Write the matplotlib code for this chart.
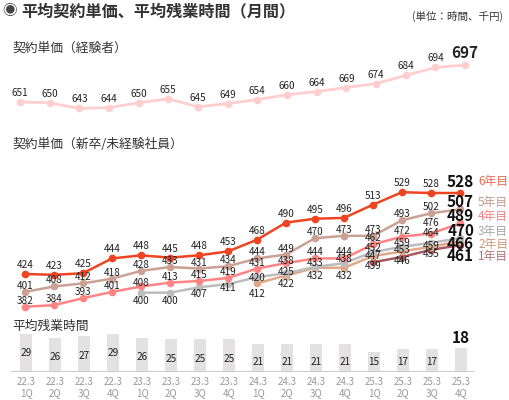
import numpy as np
import matplotlib
matplotlib.use("Agg")
import matplotlib.pyplot as plt

plt.rcParams['font.family'] = ['Noto Sans CJK JP', 'DejaVu Sans']

# ---------------- data ----------------
quarters = ["22.3\n1Q", "22.3\n2Q", "22.3\n3Q", "22.3\n4Q",
            "23.3\n1Q", "23.3\n2Q", "23.3\n3Q", "23.3\n4Q",
            "24.3\n1Q", "24.3\n2Q", "24.3\n3Q", "24.3\n4Q",
            "25.3\n1Q", "25.3\n2Q", "25.3\n3Q", "25.3\n4Q"]

experienced = [651, 650, 643, 644, 650, 655, 645, 649, 654, 660, 664, 669, 674, 684, 694, 697]

N = None
year6 = [424, 423, 425, 444, 448, 445, 448, 453, 468, 490, 495, 496, 513, 529, 528, 528]
year5 = [401, 408, 412, 418, 428, 433, 431, 434, 444, 449, 470, 473, 473, 493, 502, 507]
year4 = [382, 384, 393, 401, 408, 413, 415, 419, 431, 438, 444, 444, 462, 472, 476, 489]
year3 = [N, N, N, N, 400, 400, 407, 411, 420, 425, 433, 438, 452, 459, 464, 470]
year2 = [N, N, N, N, N, N, N, N, 412, 422, 432, 432, 447, 453, 459, 466]
year1 = [N, N, N, N, N, N, N, N, N, N, N, N, 439, 446, 455, 461]
series_names = ["6年目", "5年目", "4年目", "3年目", "2年目", "1年目"]

overtime = [29, 26, 27, 29, 26, 25, 25, 25, 21, 21, 21, 21, 15, 17, 17, 18]

# ---------------- style ----------------
colors = ["#EE4422", "#CBA196", "#FF8585", "#BDBDBD", "#E2A787", "#A85A5E"]
legend_colors = ["#EE6A4E", "#C49A90", "#FF8080", "#A8A8A8", "#D0987A", "#B07278"]
# label offsets (pixels, + = above), series order 6..1年目
label_off = [9, 6, 6, 4, 1, -4]
label_overrides = {
    2: {4: 3, 9: 2, 14: 11},
    3: {4: -8, 5: -8, 6: -7, 7: -4, 8: -1, 9: 1, 14: 10},
    4: {8: -11, 9: -8, 10: -8, 11: -8, 12: 0},
}
end_off = [11, 7, 7, 7, -3, -11]

W, H = 509, 400
fig = plt.figure(figsize=(W / 100, H / 100), dpi=100)
fig.patch.set_facecolor("white")


def px_axes(x0, x1, y0, y1):
    ax = fig.add_axes([x0 / W, 1 - y1 / H, (x1 - x0) / W, (y1 - y0) / H])
    ax.set_facecolor("none")
    for s in ax.spines.values():
        s.set_visible(False)
    ax.set_xticks([])
    ax.set_yticks([])
    return ax


def to_arr(lst):
    return np.array([np.nan if v is None else v for v in lst], dtype=float)


idx = np.arange(len(quarters))
VAL_FS = 7.2

# ---------------- title ----------------
fig.text(2 / W, 1 - 11 / H, "◉", fontsize=10.5, color="#444444", va="center", ha="left")
fig.text(21 / W, 1 - 11 / H, "平均契約単価、平均残業時間（月間）", fontsize=11.6,
         fontweight="bold", color="#333333", va="center", ha="left")
fig.text(503 / W, 1 - 16 / H, "(単位：時間、千円)", fontsize=7.6, color="#333333",
         va="center", ha="right")

# ---------------- top panel ----------------
fig.text(12 / W, 1 - 48 / H, "契約単価（経験者）", fontsize=9.2, color="#333333",
         va="center", ha="left")
ax_t = px_axes(0, W, 50, 118)
ax_t.set_xlim((0 - 20) / 29.67, (W - 20) / 29.67)
ax_t.set_ylim(651 - 16 / 0.804, 651 + 52 / 0.804)
ax_t.plot(idx, experienced, color="#FFCFCF", lw=2, marker="o", ms=4.5, zorder=2)
for i, v in enumerate(experienced):
    last = i == len(experienced) - 1
    ax_t.annotate(str(v), (i, v), xytext=(0, 12 if last else 9),
                  textcoords="offset pixels", ha="center", va="center",
                  fontsize=11 if last else VAL_FS,
                  fontweight="bold" if last else "normal", color="#222222")

# ---------------- middle panel ----------------
fig.text(12 / W, 1 - 144 / H, "契約単価（新卒/未経験社員）", fontsize=9.2, color="#333333",
         va="center", ha="left")
ax_m = px_axes(0, W, 150, 320)
ax_m.set_xlim((0 - 25) / 29, (W - 25) / 29)
ax_m.set_ylim(528 - 127 / 0.779, 528 + 43 / 0.779)

all_series = [year6, year5, year4, year3, year2, year1]
draw_order = [3, 4, 5, 2, 1, 0]
for k in draw_order:
    y = to_arr(all_series[k])
    ax_m.plot(idx, y, color=colors[k], lw=1.8, marker="o", ms=4.5,
              zorder=3 + (5 - k) * 0.1)

for k, s in enumerate(all_series):
    y = to_arr(s)
    last = len(s) - 1
    for i, v in enumerate(y):
        if np.isnan(v):
            continue
        if i == last:
            ax_m.annotate(str(int(v)), (i, v), xytext=(14, end_off[k]),
                          textcoords="offset pixels", ha="right", va="center",
                          fontsize=11, fontweight="bold", color="#111111", zorder=6)
            ax_m.annotate(series_names[k], (i, v), xytext=(18, end_off[k]),
                          textcoords="offset pixels", ha="left", va="center",
                          fontsize=8.5, color=legend_colors[k], zorder=6)
            continue
        off = label_overrides.get(k, {}).get(i, label_off[k])
        ax_m.annotate(str(int(v)), (i, v), xytext=(0, off),
                      textcoords="offset pixels", ha="center", va="center",
                      fontsize=VAL_FS, color="#222222", zorder=6)

# ---------------- bottom panel ----------------
fig.text(12 / W, 1 - 326 / H, "平均残業時間", fontsize=9.2, color="#333333",
         va="center", ha="left")
ax_b = px_axes(0, W, 315, 371.5)
ax_b.set_xlim((0 - 26) / 29, (W - 26) / 29)
ax_b.set_ylim(0, 56.5 / 1.3)
ax_b.bar(idx, overtime, width=0.41, color="#E3E1E1", zorder=2)
ax_b.axhline(0, xmin=12 / W, xmax=473 / W, color="#CCCCCC", lw=1.5, zorder=3)
for i, v in enumerate(overtime):
    if i == len(overtime) - 1:
        ax_b.annotate(str(v), (i, v), xytext=(0, 10), textcoords="offset pixels",
                      ha="center", va="center", fontsize=11, fontweight="bold",
                      color="#111111")
    else:
        ax_b.text(i, max(v - 15, 7.3), str(v), ha="center", va="center",
                  fontsize=VAL_FS, color="#222222", zorder=4)
ax_b.set_xticks(idx, quarters)
ax_b.tick_params(length=0, pad=4, labelsize=7, labelcolor="#999999")
for lab in ax_b.get_xticklabels():
    lab.set_linespacing(1.15)

fig.savefig("out.png", dpi=100, facecolor="white")
